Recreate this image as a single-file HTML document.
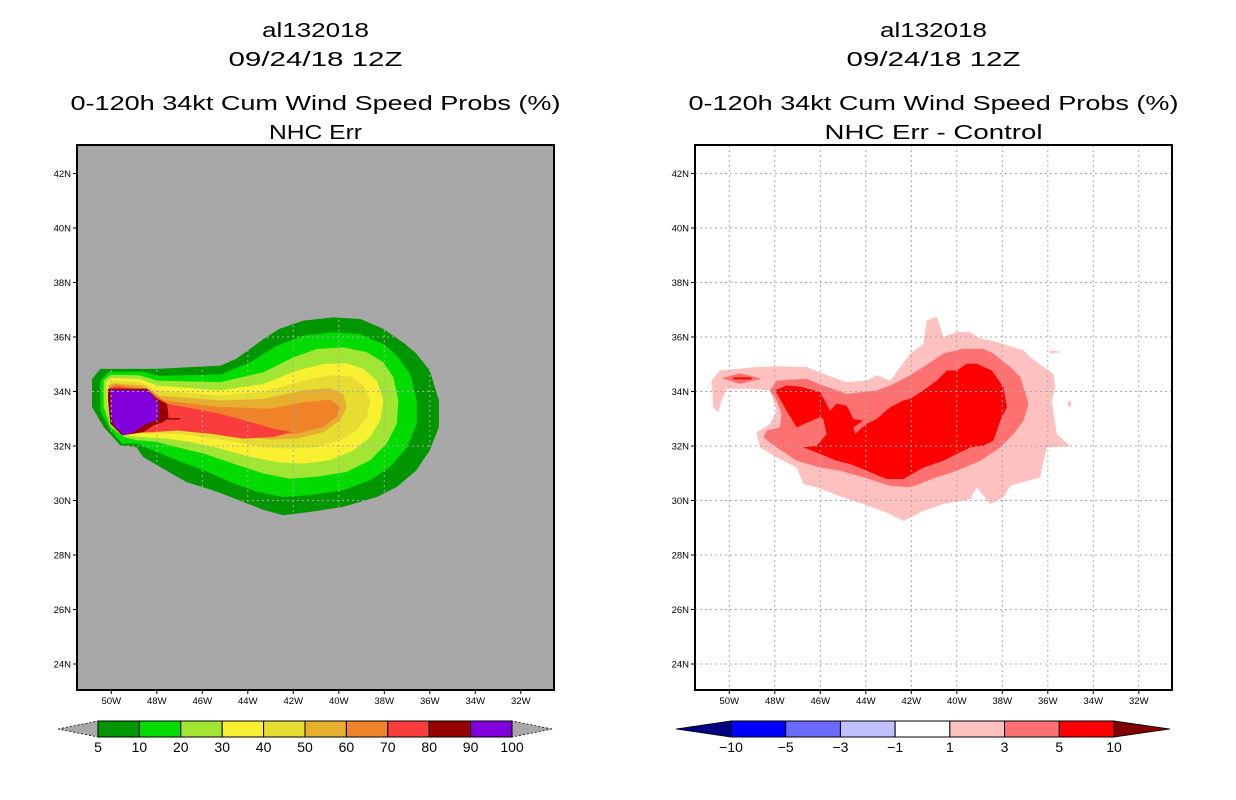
<!DOCTYPE html>
<html><head><meta charset="utf-8"><style>
html,body{margin:0;padding:0;background:#fff;}
svg{display:block;font-family:"Liberation Sans",sans-serif;}
</style></head><body>
<svg id="fig" width="1236" height="800" viewBox="0 0 1236 800">
<rect width="1236" height="800" fill="#fff"/>
<g id="left"></g>
<g id="right"></g>
</svg>
<script>
// ---- axis ticks ----
const lonTicks = [-50,-48,-46,-44,-42,-40,-38,-36,-34,-32];
const latTicks = [42,40,38,36,34,32,30,28,26,24];
// ---- left panel contour levels (lon,lat pairs) ----
const leftLevels = [5,10,20,30,40,50,60,70,80,90];
const leftColors = ["#009600","#00dc00","#a0e632","#f8f030","#e6dc32","#e6af2d","#f08228","#fa3c3c","#960000","#8200dc"];
const L5 = [[-50.85,34.46],[-50.48,34.83],[-48,34.83],[-45.2,34.95],[-44.5,35.2],[-43.3,35.93],[-42.6,36.3],[-41.55,36.6],[-40.25,36.72],[-39.05,36.66],[-38.05,36.3],[-37.1,35.75],[-36.6,35.4],[-36,34.77],[-35.6,33.67],[-35.6,32.7],[-36,31.84],[-36.6,31.1],[-37.45,30.5],[-38.33,30.13],[-39.8,29.77],[-41.25,29.58],[-42.43,29.46],[-43.3,29.65],[-44.2,29.95],[-45.35,30.32],[-46.7,30.68],[-47.85,31.23],[-48.6,31.6],[-48.9,31.96],[-49.6,32.02],[-50.34,32.7],[-50.85,33.43]];
const L10 = [[-50.48,34.4],[-50.12,34.73],[-48.58,34.73],[-48,34.58],[-45.2,34.62],[-43.9,35.07],[-42.72,35.68],[-41.55,36.05],[-40.23,36.17],[-39.06,36.1],[-38.04,35.74],[-37.45,35.32],[-36.87,34.65],[-36.57,33.67],[-36.57,32.82],[-37,31.96],[-37.75,31.23],[-38.62,30.74],[-39.8,30.38],[-41.26,30.2],[-42.43,30.13],[-43.6,30.32],[-44.77,30.68],[-45.94,31.11],[-47.12,31.48],[-48.14,31.84],[-48.87,32.09],[-49.53,32.09],[-50.04,32.57],[-50.48,33.3]];
const L20 = [[-50.34,34.4],[-50.04,34.62],[-48.73,34.59],[-48,34.4],[-45.21,34.34],[-43.31,34.71],[-41.99,35.26],[-40.97,35.56],[-39.8,35.62],[-38.77,35.44],[-38.04,35.07],[-37.6,34.52],[-37.38,33.67],[-37.45,32.82],[-37.89,32.09],[-38.62,31.48],[-39.65,31.05],[-40.97,30.87],[-42.14,30.8],[-43.31,30.99],[-44.63,31.35],[-45.94,31.72],[-47.12,31.96],[-48,32.15],[-48.87,32.21],[-49.46,32.33],[-50.04,32.7],[-50.34,33.43]];
const L30 = [[-50.22,34.34],[-49.97,34.5],[-48.73,34.46],[-48,34.22],[-45.21,34.04],[-43.31,34.28],[-41.84,34.77],[-40.67,35.01],[-39.65,35.04],[-38.92,34.83],[-38.33,34.4],[-38.04,33.67],[-38.18,32.94],[-38.62,32.33],[-39.36,31.84],[-40.38,31.48],[-41.55,31.35],[-42.72,31.41],[-43.9,31.6],[-45.21,31.9],[-46.53,32.15],[-47.55,32.27],[-48.58,32.33],[-49.46,32.39],[-49.97,32.82],[-50.19,33.55]];
const L40 = [[-50.16,34.28],[-49.9,34.4],[-48.73,34.34],[-48,34.04],[-45.21,33.85],[-43.31,33.98],[-41.55,34.4],[-40.38,34.59],[-39.5,34.55],[-38.92,34.22],[-38.62,33.67],[-38.77,33.06],[-39.21,32.57],[-39.94,32.21],[-40.97,31.96],[-42.14,31.9],[-43.31,31.96],[-44.63,32.15],[-45.94,32.33],[-47.12,32.45],[-48.29,32.45],[-49.31,32.48],[-49.9,32.94],[-50.12,33.67]];
const L50 = [[-50.12,34.22],[-49.87,34.3],[-48.58,34.22],[-47.85,33.85],[-45.21,33.67],[-43.31,33.73],[-41.55,34.04],[-40.38,34.13],[-39.8,33.91],[-39.65,33.43],[-39.94,32.94],[-40.67,32.51],[-41.84,32.27],[-43.02,32.23],[-44.48,32.39],[-45.94,32.51],[-47.12,32.57],[-48.29,32.57],[-49.31,32.55],[-49.82,33.0],[-50.07,33.67]];
const L60 = [[-50.09,34.18],[-49.82,34.26],[-48.43,34.1],[-47.7,33.67],[-45.21,33.43],[-43.02,33.37],[-41.55,33.61],[-40.38,33.7],[-39.94,33.43],[-40.09,33.06],[-40.67,32.7],[-41.84,32.45],[-43.31,32.43],[-44.77,32.51],[-45.94,32.63],[-47.12,32.67],[-48.29,32.63],[-49.17,32.57],[-49.75,33.04],[-50.04,33.67]];
const L70 = [[-50.07,34.13],[-49.75,34.18],[-48.36,34.01],[-47.55,33.55],[-45.21,33.18],[-43.9,32.88],[-42.87,32.63],[-42.06,32.51],[-42.87,32.33],[-44.19,32.27],[-45.65,32.45],[-47.12,32.57],[-48.14,32.51],[-49.02,32.48],[-49.68,32.94],[-50.04,33.67]];
const L80 = [[-50.15,34.1],[-48.43,34.1],[-48,33.73],[-47.55,33.55],[-47.48,33.06],[-47.7,32.88],[-48.14,32.76],[-48.58,32.51],[-49.02,32.45],[-49.53,32.39],[-50.04,32.82],[-50.15,33.67]];
const L90 = [[-50.04,34.06],[-48.36,34.04],[-47.92,33.55],[-47.92,33.0],[-48.58,32.76],[-49.02,32.51],[-49.46,32.39],[-49.9,32.76],[-50.04,33.3]];
const leftShapes = [L5,L10,L20,L30,L40,L50,L60,L70,L80,L90];
const L80line = [[-47.7,33.0],[-46.97,33.0]];
// ---- right panel (difference) ----
const R1 = [[-50.78,34.4],[-50.41,34.77],[-48.8,34.9],[-47.92,34.92],[-46.6,34.9],[-45.87,34.65],[-44.84,34.34],[-43.96,34.4],[-43.52,34.59],[-42.93,34.4],[-42.05,35.39],[-41.47,35.75],[-41.32,36.61],[-40.88,36.74],[-40.59,36.0],[-40.0,36.18],[-39.41,36.18],[-38.97,35.94],[-38.24,35.82],[-37.07,35.51],[-36.77,35.26],[-36.19,34.9],[-35.75,34.65],[-35.67,34.16],[-35.82,33.67],[-35.75,33.18],[-35.6,32.44],[-35.01,31.99],[-36.04,31.95],[-36.19,31.46],[-36.33,30.85],[-37.65,30.54],[-37.95,30.11],[-38.53,29.87],[-39.12,30.48],[-39.41,30.05],[-40.59,29.87],[-41.47,29.62],[-42.35,29.25],[-42.93,29.5],[-44.11,29.87],[-44.99,30.11],[-46.16,30.48],[-46.74,30.6],[-47.04,31.21],[-47.92,31.58],[-48.65,31.95],[-48.8,32.5],[-48.21,32.81],[-47.92,33.3],[-48.21,34.04],[-49.09,34.1],[-50.12,34.1],[-50.34,33.67],[-50.48,33.24],[-50.7,33.42]];
const R1b = [[-35.9,35.5],[-35.3,35.45],[-35.9,35.4]];
const R1c = [[-35.05,33.7],[-34.95,33.55],[-35.05,33.4],[-35.15,33.55]];
const R3 = [[-48.21,34.04],[-47.92,34.4],[-46.6,34.47],[-45.87,34.22],[-44.84,33.91],[-43.52,34.04],[-42.93,34.22],[-42.2,34.53],[-41.47,34.9],[-40.59,35.39],[-39.71,35.57],[-38.83,35.57],[-38.39,35.39],[-37.65,34.9],[-37.21,34.53],[-36.85,33.55],[-37.07,32.93],[-37.51,32.44],[-38.09,31.95],[-38.97,31.46],[-40.0,31.09],[-40.88,30.85],[-42.05,30.48],[-42.93,30.54],[-44.11,30.85],[-45.13,31.09],[-46.01,31.21],[-47.04,31.46],[-47.92,31.95],[-48.5,32.32],[-48.36,32.56],[-47.77,32.69],[-47.7,33.18],[-47.92,33.67]];
const R3b = [[-50.34,34.49],[-49.53,34.67],[-48.58,34.47],[-49.53,34.28]];
const R5 = [[-47.99,34.04],[-47.48,34.22],[-46.89,34.18],[-46.01,33.98],[-45.57,33.3],[-45.28,33.55],[-44.84,33.48],[-44.55,32.99],[-44.11,32.93],[-44.55,32.69],[-44.47,32.44],[-43.96,32.81],[-43.52,32.99],[-42.93,33.42],[-42.35,33.67],[-42.05,33.73],[-41.47,34.04],[-40.88,34.4],[-40.44,34.77],[-40.0,34.77],[-39.56,35.02],[-39.12,35.02],[-38.46,34.77],[-37.95,34.16],[-37.8,33.42],[-38.09,32.93],[-38.39,32.2],[-38.83,32.01],[-39.41,31.95],[-40.0,31.71],[-40.59,31.46],[-41.47,31.21],[-42.35,30.79],[-43.08,30.79],[-43.96,31.09],[-44.69,31.34],[-45.28,31.46],[-46.01,31.71],[-46.74,31.95],[-46.16,32.01],[-45.72,32.44],[-45.87,32.99],[-46.01,33.06],[-47.04,32.69],[-47.48,33.3]];
const R5line = [[-49.82,34.48],[-49.02,34.48]];
const rightShapes = [R1,R1b,R1c,R3,R3b,R5];
const rightColors = ["#ffc0c0","#ffc0c0","#ffc0c0","#ff7070","#ff7070","#ff0000"];
// ---- colorbars ----
const leftBarLabels = ["5","10","20","30","40","50","60","70","80","90","100"];
const rightBarLabels = ["-10","-5","-3","-1","1","3","5","10"];
const rightBarColors = ["#0000ff","#6a6aff","#c0c0ff","#ffffff","#ffc0c0","#ff7070","#ff0000"];

const NS="http://www.w3.org/2000/svg";
function mk(tag, attrs, parent){const e=document.createElementNS(NS,tag);for(const k in attrs)e.setAttribute(k,attrs[k]);parent.appendChild(e);return e;}
const BOX={y0:145,y1:690,w:477};
function xScale(off){return lon=>off+111.3-77+(lon+50)*22.75;}
function yScale(lat){return 391.5-(lat-34)*27.25;}
function pts(arr,xs){return arr.map(p=>xs(p[0]).toFixed(1)+","+yScale(p[1]).toFixed(1)).join(" ");}

function panel(g, x0, bg, titleBot, w4){
  const xs=xScale(x0);
  const cx=x0+BOX.w/2;
  const T=[["al132018",30,107],["09/24/18 12Z",59,174],["0-120h 34kt Cum Wind Speed Probs (%)",103,490],[titleBot,132,w4]];
  T.forEach((t,i)=>{const e=mk("text",{x:cx,y:t[1]+7,"text-anchor":"middle","font-size":"20",textLength:t[2],lengthAdjust:"spacingAndGlyphs",fill:"#000"},g);e.textContent=t[0];
    
    });
  const cp=mk("clipPath",{id:"cp"+x0},g);mk("rect",{x:x0,y:BOX.y0,width:BOX.w,height:BOX.y1-BOX.y0},cp);
  const plot=mk("g",{"clip-path":"url(#cp"+x0+")"},g);
  
  
  mk("rect",{x:x0,y:BOX.y0,width:BOX.w,height:BOX.y1-BOX.y0,fill:bg},plot);
  return {xs,plot,cx};
}
function gridAndAxes(g,plot,xs,x0){
  lonTicks.forEach(lon=>{const x=xs(lon);
    const l=mk("line",{x1:x,x2:x,y1:BOX.y0,y2:BOX.y1,stroke:"#aaa","stroke-width":1,"stroke-dasharray":"2,3"},plot);
    
    
    mk("line",{x1:x,x2:x,y1:BOX.y1,y2:BOX.y1+4,stroke:"#000"},g);
    const t=mk("text",{x:x,y:BOX.y1+14,"text-anchor":"middle","font-size":"9.5",fill:"#000"},g);t.textContent=Math.abs(lon)+"W";
    
    });
  latTicks.forEach(lat=>{const y=yScale(lat);
    const l=mk("line",{x1:x0,x2:x0+BOX.w,y1:y,y2:y,stroke:"#aaa","stroke-width":1,"stroke-dasharray":"2,3"},plot);
    
    
    mk("line",{x1:x0-4,x2:x0,y1:y,y2:y,stroke:"#000"},g);
    const t=mk("text",{x:x0-6,y:y+3.5,"text-anchor":"end","font-size":"9.5",fill:"#000"},g);t.textContent=lat+"N";
    
    });
  const b=mk("rect",{x:x0,y:BOX.y0,width:BOX.w,height:BOX.y1-BOX.y0,fill:"none",stroke:"#000","stroke-width":2},g);
  
  
}

// LEFT
(function(){
  const g=document.getElementById("left");const x0=77;
  const {xs,plot}=panel(g,x0,"#a8a8a8","NHC Err",93);
  leftShapes.forEach((s,i)=>{const p=mk("polygon",{points:pts(s,xs),fill:leftColors[i]},plot);
    
    });
  const ln=mk("polyline",{points:pts(L80line,xs),stroke:"#960000","stroke-width":1.5,fill:"none"},plot);
  
  
  gridAndAxes(g,plot,xs,x0);
  // colorbar
  const bx0=98,bx1=512,by0=721,by1=737,n=leftColors.length,bw=(bx1-bx0)/n;
  const t1=mk("polygon",{points:`58,729 ${bx0},${by0} ${bx0},${by1}`,fill:"#a8a8a8",stroke:"#000","stroke-dasharray":"2,2","stroke-width":0.8},g);
  
  
  const t2=mk("polygon",{points:`552,729 ${bx1},${by0} ${bx1},${by1}`,fill:"#a8a8a8",stroke:"#000","stroke-dasharray":"2,2","stroke-width":0.8},g);
  
  
  leftColors.forEach((c,i)=>{const r=mk("rect",{x:bx0+i*bw,y:by0,width:bw,height:by1-by0,fill:c,stroke:"#000","stroke-width":1},g);
    
    });
  leftBarLabels.forEach((s,i)=>{const t=mk("text",{x:bx0+i*bw,y:752,"text-anchor":"middle","font-size":"14",fill:"#000"},g);t.textContent=s;
    
    });
})();

// RIGHT
(function(){
  const g=document.getElementById("right");const x0=695;
  const {xs,plot}=panel(g,x0,"#ffffff","NHC Err - Control",218);
  rightShapes.forEach((s,i)=>{const p=mk("polygon",{points:pts(s,xs),fill:rightColors[i]},plot);
    
    });
  const ln=mk("polyline",{points:pts(R5line,xs),stroke:"#ff0000","stroke-width":2,fill:"none"},plot);
  
  
  gridAndAxes(g,plot,xs,x0);
  const bx0=731,bx1=1114,by0=721,by1=737,n=rightBarColors.length,bw=(bx1-bx0)/n;
  const t1=mk("polygon",{points:`676,729 ${bx0},${by0} ${bx0},${by1}`,fill:"#000080",stroke:"#000","stroke-width":0.8},g);
  
  
  const t2=mk("polygon",{points:`1170,729 ${bx1},${by0} ${bx1},${by1}`,fill:"#800000",stroke:"#000","stroke-width":0.8},g);
  
  
  rightBarColors.forEach((c,i)=>{const r=mk("rect",{x:bx0+i*bw,y:by0,width:bw,height:by1-by0,fill:c,stroke:"#000","stroke-width":1},g);
    
    });
  rightBarLabels.forEach((s,i)=>{const t=mk("text",{x:bx0+i*bw,y:752,"text-anchor":"middle","font-size":"14",fill:"#000"},g);t.textContent=s.replace("-","\u2212");
    
    });
})();
</script>
</body></html>
